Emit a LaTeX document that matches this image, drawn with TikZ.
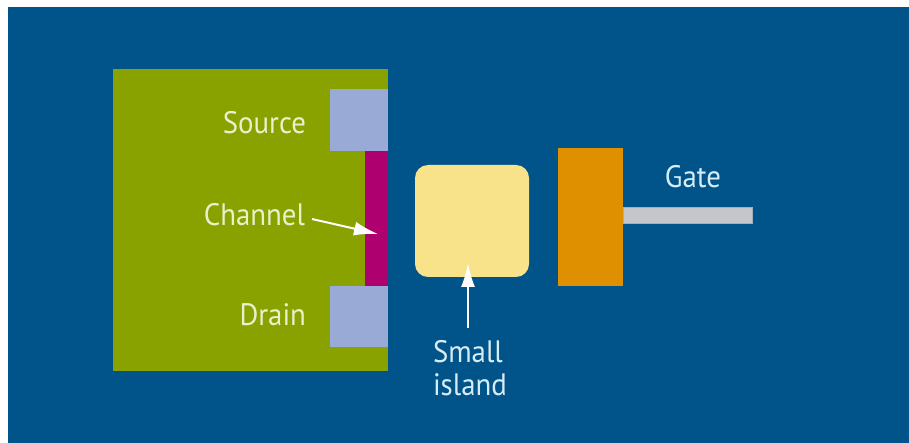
\documentclass[tikz,border=0pt]{standalone}
\usepackage{fontspec}
\setmainfont[FakeStretch=0.93]{PT Sans}
\usetikzlibrary{arrows.meta}
\definecolor{bgblue}{HTML}{00548A}
\definecolor{grn}{HTML}{8AA200}
\definecolor{pad}{HTML}{9AAAD6}
\definecolor{chan}{HTML}{AE006E}
\definecolor{isl}{HTML}{F9E38A}
\definecolor{gateor}{HTML}{DE9000}
\definecolor{bar}{HTML}{C5C6CB}
\definecolor{txtg}{HTML}{E8F0CC}
\definecolor{txtb}{HTML}{D8ECF6}
\tikzset{
  box/.style={draw=none, inner sep=0pt, outer sep=0pt, anchor=north west},
  lbl/.style={inner sep=0pt, outer sep=0pt, font=\fontsize{31}{33}\selectfont},
  arr/.style={draw=white, line width=2pt, -{Latex[length=24pt,width=14pt]}}
}
\begin{document}
\begin{tikzpicture}[x=1pt,y=-1pt]
\useasboundingbox (0,0) rectangle (909,443);
\fill[bgblue] (8,7) rectangle (909,443);
\node[box, fill=grn, minimum width=275pt, minimum height=302pt] (sub) at (113,69) {};
\node[box, fill=pad, minimum width=58pt, minimum height=62pt] (src) at (330,89) {};
\node[box, fill=pad, minimum width=58pt, minimum height=61pt] (drn) at (330,286) {};
\node[box, fill=chan, minimum width=23pt, minimum height=135pt] (chn) at (365,151) {};
\node[box, fill=isl, rounded corners=13pt, minimum width=114pt, minimum height=112pt] (island) at (415,165) {};
\node[box, fill=gateor, minimum width=65pt, minimum height=138pt] (gate) at (558,148) {};
\node[box, fill=bar, draw=bar!80!bgblue, line width=0.8pt, minimum width=129pt, minimum height=16pt] (gbar) at (623,207) {};
\node[lbl, text=txtg, anchor=east] (srcl) at (306,123) {Source};
\node[lbl, text=txtg, anchor=east] (chnl) at (305,215) {Channel};
\node[lbl, text=txtg, anchor=east] (drnl) at (306,315) {Drain};
\node[lbl, text=txtb] (gatel) at (693,177) {Gate};
\node[lbl, text=txtb, anchor=west, align=left] (isll) at (433,368) {Small\\island};
\coordinate (chtip) at (378,234);
\coordinate (isltip) at (468,263);
\coordinate (islstart) at (468,328);
\draw[arr] ([xshift=7pt,yshift=-4pt]chnl.east) -- (chtip);
\draw[arr] (islstart) -- (isltip);
\end{tikzpicture}
\end{document}
